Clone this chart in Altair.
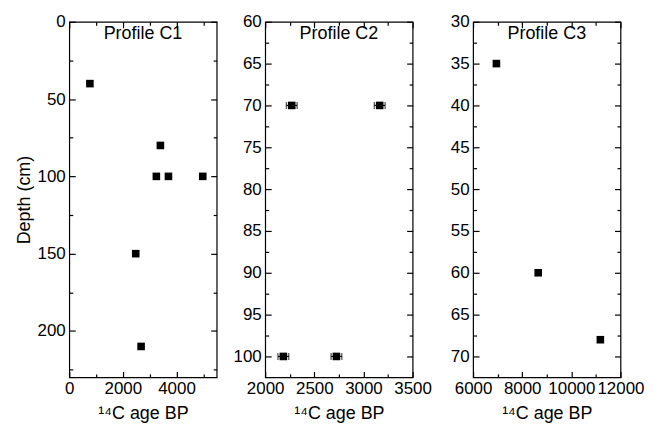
import altair as alt
import pandas as pd

FONT = "Liberation Sans"
W, H = 148, 357

# Profile C1
c1_age = [770, 3400, 3250, 3700, 4980, 2480, 2680]
c1_depth = [40, 80, 100, 100, 100, 150, 210]
# Profile C2 (with horizontal error bars)
c2_age = [2270, 3165, 2185, 2725]
c2_depth = [70, 70, 100, 100]
c2_err = [55, 55, 55, 55]
# Profile C3
c3_age = [6950, 8650, 11180]
c3_depth = [35, 60, 68]

x_title = "¹⁴C age BP"
y_title = "Depth (cm)"


def panel(age, depth, xdom, ydom, xmaj, xmin, ymaj, ymin, name, ytitle=None, err=None):
    df = pd.DataFrame({"age": age, "depth": depth})
    if err is not None:
        df["lo"] = [a - e for a, e in zip(age, err)]
        df["hi"] = [a + e for a, e in zip(age, err)]
    xs = alt.Scale(domain=xdom, nice=False, zero=False)
    ys = alt.Scale(domain=ydom, nice=False, zero=False, reverse=True)
    base = alt.Chart(df)

    yaxis_kw = dict(orient="left", values=ymaj, ticks=False, domain=False, grid=False,
                    labelFontSize=17, labelPadding=4, labelColor="black", labelFont=FONT,
                    labelOverlap=False, labelFlush=False)
    if ytitle:
        yaxis_kw.update(title=ytitle, titleFontSize=18, titleFontWeight="normal",
                        titleColor="black", titleFont=FONT, titlePadding=4)
        yaxis = alt.Axis(**yaxis_kw)
    else:
        yaxis = alt.Axis(title=None, **yaxis_kw)

    main = base.mark_square(size=58, color="black", opacity=1).encode(
        x=alt.X("age:Q", scale=xs, axis=alt.Axis(
            orient="bottom", values=xmaj, ticks=False, domain=False, grid=False, format="d",
            labelFontSize=17, labelPadding=3, labelColor="black", labelFont=FONT,
            labelOverlap=False, labelFlush=False,
            title=x_title, titleFontSize=18, titleFontWeight="normal", titleColor="black",
            titleFont=FONT, titlePadding=8)),
        y=alt.Y("depth:Q", scale=ys, axis=yaxis),
    )

    def tick_layer(ox, oy, vx, vy, size):
        return base.mark_point(opacity=0).encode(
            x=alt.X("age:Q", scale=xs, axis=alt.Axis(
                orient=ox, values=vx, labels=False, domain=False, grid=False, title=None,
                tickSize=size, offset=-size, tickColor="black", tickWidth=1.2)),
            y=alt.Y("depth:Q", scale=ys, axis=alt.Axis(
                orient=oy, values=vy, labels=False, domain=False, grid=False, title=None,
                tickSize=size, offset=-size, tickColor="black", tickWidth=1.2)),
        )

    layers = []
    if err is not None:
        bars = base.mark_rule(color="black", strokeWidth=1.2).encode(
            x=alt.X("lo:Q", scale=xs, axis=None), x2="hi:Q",
            y=alt.Y("depth:Q", scale=ys, axis=None))
        cap_lo = base.mark_tick(color="black", orient="vertical", size=7, thickness=1.2).encode(
            x=alt.X("lo:Q", scale=xs, axis=None), y=alt.Y("depth:Q", scale=ys, axis=None))
        cap_hi = base.mark_tick(color="black", orient="vertical", size=7, thickness=1.2).encode(
            x=alt.X("hi:Q", scale=xs, axis=None), y=alt.Y("depth:Q", scale=ys, axis=None))
        layers += [bars, cap_lo, cap_hi]
    layers.append(main)
    layers += [
        tick_layer("bottom", "left", xmaj, ymaj, 6),
        tick_layer("bottom", "left", xmin, ymin, 3.5),
        tick_layer("top", "right", xmaj, ymaj, 6),
        tick_layer("top", "right", xmin, ymin, 3.5),
    ]
    label = alt.Chart(pd.DataFrame({"t": [name]})).mark_text(
        fontSize=18, font=FONT, color="black", baseline="middle", align="center"
    ).encode(text="t:N", x=alt.value(W / 2), y=alt.value(12))
    layers.append(label)

    return alt.layer(*layers).resolve_axis(x="independent", y="independent").properties(
        width=W, height=H)


p1 = panel(c1_age, c1_depth, [0, 5500], [0, 230],
           [0, 2000, 4000], [1000, 3000, 5000],
           [0, 50, 100, 150, 200], [25, 75, 125, 175, 225],
           "Profile C1", ytitle=y_title)
p2 = panel(c2_age, c2_depth, [2000, 3500], [60, 102.5],
           [2000, 2500, 3000, 3500], [2250, 2750, 3250],
           [60, 65, 70, 75, 80, 85, 90, 95, 100],
           [62.5, 67.5, 72.5, 77.5, 82.5, 87.5, 92.5, 97.5],
           "Profile C2", err=c2_err)
p3 = panel(c3_age, c3_depth, [6000, 12000], [30, 72.5],
           [6000, 8000, 10000, 12000], [7000, 9000, 11000],
           [30, 35, 40, 45, 50, 55, 60, 65, 70],
           [32.5, 37.5, 42.5, 47.5, 52.5, 57.5, 62.5, 67.5],
           "Profile C3")

inner = alt.hconcat(p2, p3, spacing=60.7, bounds="flush")
chart = alt.hconcat(p1, inner, spacing=48.7, bounds="flush").configure_view(
    stroke="black", strokeWidth=1.2
).properties(background="white", padding={"left": 6.5, "top": 3, "right": 0, "bottom": 0})

chart.save("out.html", embed_options={"renderer": "svg", "actions": False})
